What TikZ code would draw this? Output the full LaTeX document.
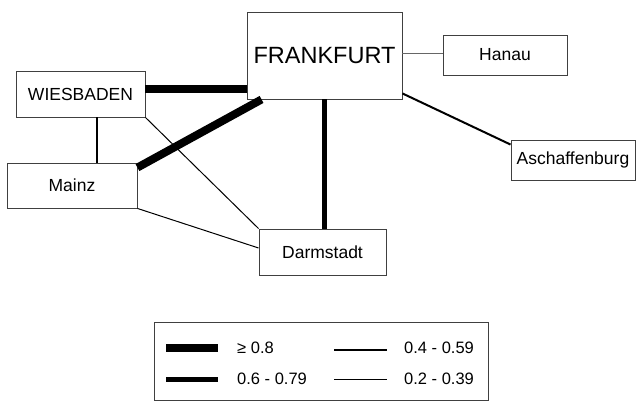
\documentclass[tikz,border=0pt]{standalone}
\usepackage{fontspec}
\setmainfont{Liberation Sans}
\begin{document}
\begin{tikzpicture}[x=1pt,y=-1pt,
  city/.style={draw=black!75,line width=0.9pt,inner sep=0pt,font=\fontsize{17.5}{20}\selectfont},
  lw08/.style={line width=8pt},
  lw06/.style={line width=5pt},
  lw04/.style={line width=2pt},
  lw02/.style={line width=1pt},
  legtext/.style={anchor=west,inner sep=0pt,font=\fontsize{16.5}{19}\selectfont}]

\useasboundingbox (0,0) rectangle (644,406);

\node[city,minimum width=155pt,minimum height=87pt,font=\fontsize{23.5}{27}\selectfont] (fra) at (324.5,55.5) {FRANKFURT};
\node[city,minimum width=124pt,minimum height=40pt] (han) at (505,55) {Hanau};
\node[city,minimum width=129pt,minimum height=46pt] (wie) at (80.5,94) {WIESBADEN};
\node[city,minimum width=130pt,minimum height=45pt] (mai) at (72,185.5) {Mainz};
\node[city,minimum width=127pt,minimum height=46pt] (dar) at (322.5,252) {Darmstadt};
\node[city,minimum width=124pt,minimum height=40pt] (asc) at (573,160) {Aschaffenburg};

% connections
\draw[lw08] ([yshift=5pt]wie.east) -- ([yshift=5pt]wie.east -| fra.west);
\draw[lw08] ([xshift=15pt]fra.south west) -- ([yshift=-5pt]mai.north east);
\draw[lw06] (fra.south) -- (fra.south |- dar.north);
\draw[lw04] ([yshift=6pt]fra.south east) -- ([yshift=-5pt]asc.north west);
\draw[lw04] ([xshift=16.5pt]wie.south) -- ([xshift=16.5pt]wie.south |- mai.north);
\draw[line width=1.2pt,black!60] ([yshift=2pt]fra.east) -- ([yshift=2pt]fra.east -| han.west);
\draw[lw02] (wie.south east) -- (dar.north west);
\draw[lw02] (mai.south east) -- ([yshift=4pt]dar.west);

% legend
\node[draw=black!75,line width=0.9pt,minimum width=334pt,minimum height=78pt] (leg) at (321,361) {};
\coordinate (r1) at (166,348);
\coordinate (r2) at (166,379);
\draw[lw08] (r1) -- ++(52,0);
\draw[lw06] (r2) -- ++(52,0);
\node[legtext] (t1) at (237,348) {≥ 0.8};
\node[legtext] (t2) at (237,379) {0.6 - 0.79};
\draw[lw04] (334,350) -- ++(53,0);
\draw[lw02] (334,379) -- ++(53,0);
\node[legtext] (t3) at (404,348) {0.4 - 0.59};
\node[legtext] (t4) at (404,379) {0.2 - 0.39};

\end{tikzpicture}
\end{document}
